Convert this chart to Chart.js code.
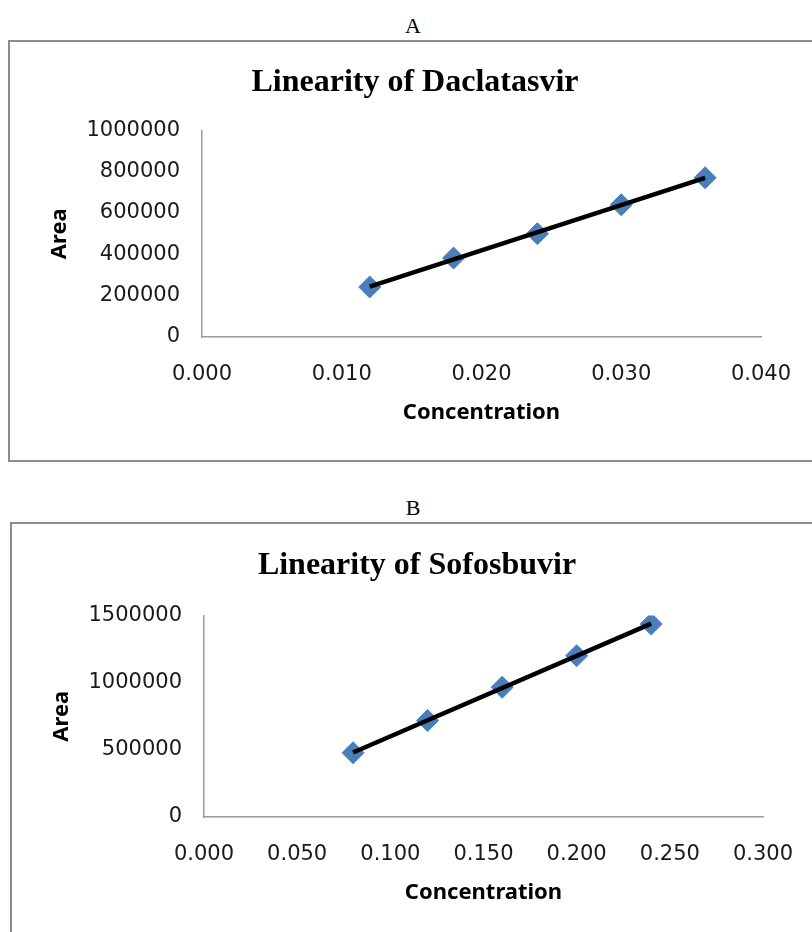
<!DOCTYPE html>
<html>
<head>
<meta charset="utf-8">
<script src="https://cdn.jsdelivr.net/npm/chart.js@4.4.1/dist/chart.umd.min.js"></script>
<style>
    body { margin: 0; width: 812px; height: 932px; overflow: hidden; background: #fff; position: relative; }
    .panelLabel { position: absolute; left: 0; width: 826px; text-align: center; font: 22px 'Liberation Serif', serif; color: #000; }
    .frame { position: absolute; border: 2px solid #8c8c8c; background: #fff; }
    .frame canvas { position: absolute; left: 0; top: 0; }
</style>
</head>
<body>
<div class="panelLabel" style="top: 13px;">A</div>
<div class="frame" id="frameA" style="left: 8px; top: 40px; width: 820px; height: 418px;">
    <canvas id="chartA"></canvas>
</div>
<div class="panelLabel" style="top: 495px;">B</div>
<div class="frame" id="frameB" style="left: 10px; top: 522px; width: 820px; height: 430px;">
    <canvas id="chartB"></canvas>
</div>
<script>
// Daclatasvir
const concA = [0.012, 0.018, 0.024, 0.030, 0.036];
const areaA = [242000, 382000, 500000, 640000, 771000];
// Sofosbuvir
const concB = [0.08, 0.12, 0.16, 0.20, 0.24];
const areaB = [478000, 718000, 965000, 1200000, 1436000];

const markerColor = '#4a7ebb';
const tickFont = { family: "'DejaVu Sans', sans-serif", size: 21 };
const axisTitleFont = { family: "'Noto Sans', 'Open Sans', sans-serif", size: 22, weight: 'bold' };

//least squares trendline between first and last x, like the excel linear trendline
function trendline(xs, ys) {
    const n = xs.length;
    const mx = xs.reduce((a, b) => a + b, 0) / n;
    const my = ys.reduce((a, b) => a + b, 0) / n;
    let sxy = 0, sxx = 0;
    for (let i = 0; i < n; i++) {
        sxy += (xs[i] - mx) * (ys[i] - my);
        sxx += (xs[i] - mx) * (xs[i] - mx);
    }
    const slope = sxy / sxx;
    const x0 = xs[0], x1 = xs[n - 1];
    return [{ x: x0, y: my + slope * (x0 - mx) }, { x: x1, y: my + slope * (x1 - mx) }];
}

function makeChart(canvas, w, h, title, xs, ys, xMax, xStep, yMax, yStep, titlePad, padBottom) {
    canvas.width = w;
    canvas.height = h;
    return new Chart(canvas, {
        type: 'scatter',
        data: {
            datasets: [{
                data: trendline(xs, ys),
                showLine: true,
                borderColor: '#000',
                borderWidth: 4.5,
                pointRadius: 0,
                order: 0
            }, {
                data: xs.map((x, i) => ({ x: x, y: ys[i] })),
                pointStyle: 'rectRot',
                pointRadius: 11,
                backgroundColor: markerColor,
                borderColor: markerColor,
                borderWidth: 1,
                order: 1
            }]
        },
        options: {
            responsive: false,
            animation: false,
            layout: {
                padding: { left: 0, right: 0, top: 0, bottom: padBottom }
            },
            scales: {
                x: {
                    type: 'linear',
                    min: 0,
                    max: xMax,
                    grid: { display: false, drawTicks: false },
                    border: { display: true, color: '#9a9a9a', width: 1.5 },
                    ticks: {
                        stepSize: xStep,
                        color: '#1a1a1a',
                        font: tickFont,
                        padding: 25,
                        maxRotation: 0,
                        callback: v => v.toFixed(3)
                    },
                    title: {
                        display: true,
                        text: 'Concentration',
                        color: '#000',
                        font: axisTitleFont,
                        padding: 0
                    },
                    afterFit: scale => { scale.height = 89; }
                },
                y: {
                    min: 0,
                    max: yMax,
                    grid: { display: false, drawTicks: false },
                    border: { display: true, color: '#9a9a9a', width: 1.5 },
                    ticks: {
                        stepSize: yStep,
                        color: '#1a1a1a',
                        font: tickFont,
                        padding: 22,
                        callback: v => String(v)
                    },
                    title: {
                        display: true,
                        text: 'Area',
                        color: '#000',
                        font: axisTitleFont,
                        padding: { top: 37, bottom: 0 }
                    },
                    afterFit: scale => { scale.width = 192; }
                },
                //empty right side so the title stays centred on the whole frame
                yRight: {
                    position: 'right',
                    grid: { display: false, drawTicks: false },
                    border: { display: false },
                    ticks: { display: false },
                    afterFit: scale => { scale.width = 59; }
                }
            },
            plugins: {
                legend: { display: false },
                tooltip: { enabled: false },
                title: {
                    display: true,
                    text: title,
                    color: '#000',
                    font: { family: "'Liberation Serif', serif", size: 32, weight: 'bold' },
                    padding: titlePad
                }
            }
        }
    });
}

makeChart(document.getElementById('chartA'), 810, 418, 'Linearity of Daclatasvir',
    concA, areaA, 0.04, 0.01, 1000000, 200000, { top: 22, bottom: 28 }, 34);
makeChart(document.getElementById('chartB'), 810, 430, 'Linearity of Sofosbuvir',
    concB, areaB, 0.3, 0.05, 1500000, 500000, { top: 23, bottom: 30 }, 48);
</script>
</body>
</html>
